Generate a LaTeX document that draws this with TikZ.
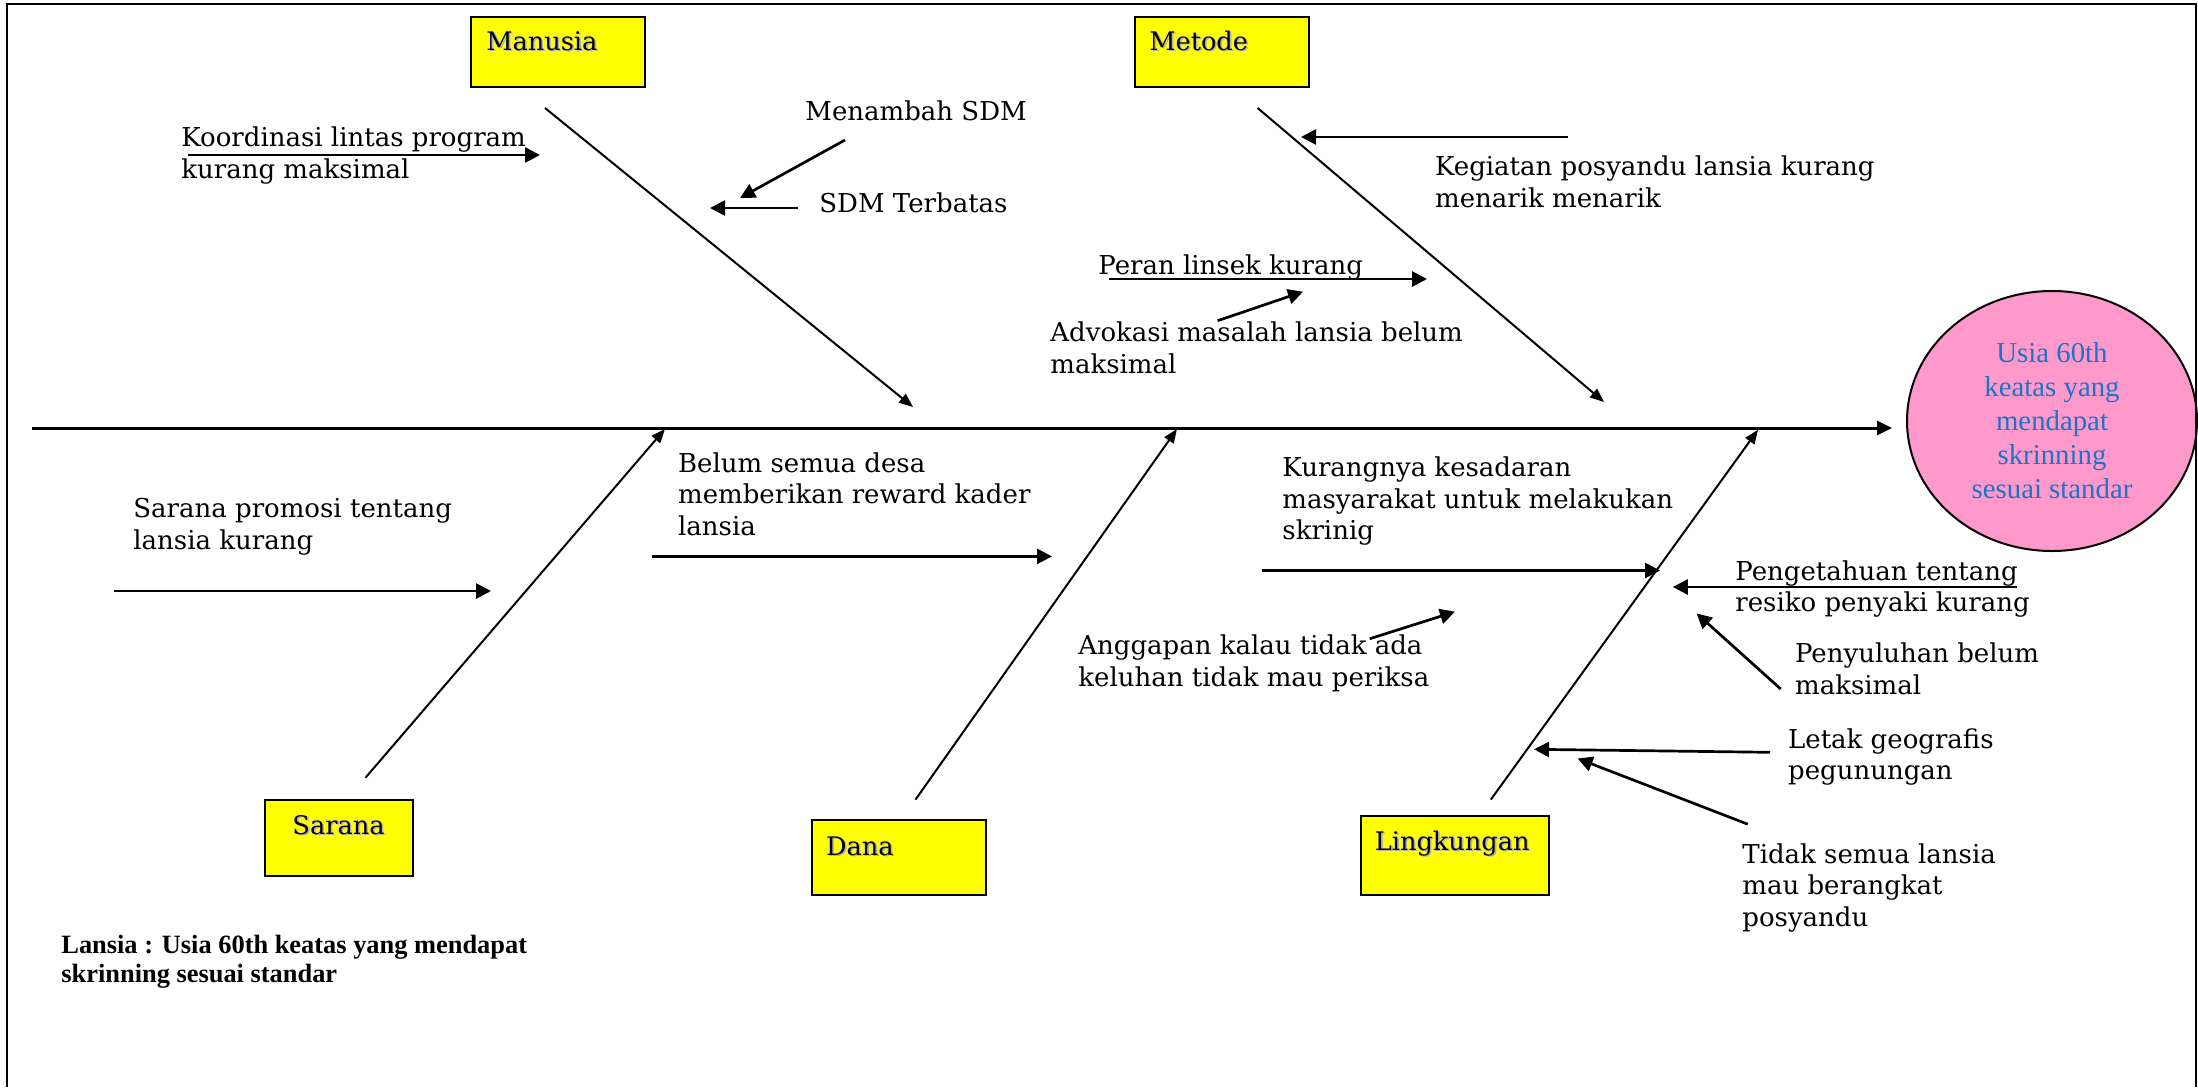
\documentclass[tikz,border=0pt]{standalone}
\usepackage{fontspec}
\setmainfont{DejaVu Serif}
\newfontfamily\timesf{Liberation Serif}
\usetikzlibrary{arrows.meta,shapes.geometric}
\definecolor{boxyellow}{HTML}{FFFF00}
\definecolor{ellpink}{HTML}{FF99CC}
\definecolor{ellblue}{HTML}{1A75C6}
\newcommand\shtext[1]{\leavevmode\rlap{\kern0.8pt\raisebox{-0.8pt}{\textcolor{black!30}{#1}}}#1}
\begin{document}
\begin{tikzpicture}[x=0.5pt,y=-0.5pt,
  lbl/.style={font=\fontsize{13}{15.75}\selectfont, align=left, inner sep=0pt, anchor=base west},
  catbox/.style={draw=black, line width=1pt, fill=boxyellow, inner sep=0pt},
  cattext/.style={font=\fontsize{12.8}{14}\selectfont, inner sep=0pt, anchor=base west},
  bone/.style={line width=1pt, -{Triangle[length=7pt,width=5.5pt]}},
  subarrow/.style={line width=1.35pt, -{Triangle[length=7.5pt,width=7.5pt]}},
  spine/.style={line width=1.5pt, -{Triangle[length=7.5pt,width=7pt]}},
  note/.style={font=\timesf\bfseries\fontsize{13.2}{14.8}\selectfont, align=left, inner sep=0pt, anchor=base west}]
\useasboundingbox (0,0) rectangle (2198,1087);

% category boxes
\node[catbox, minimum width=87pt, minimum height=35pt] (manusia) at (558,52) {};
\node[catbox, minimum width=87pt, minimum height=35pt] (metode) at (1222,52) {};
\node[catbox, minimum width=74pt, minimum height=37.75pt] (sarana) at (338.5,837.75) {};
\node[catbox, minimum width=87pt, minimum height=37.5pt] (dana) at (898.6,857.5) {};
\node[catbox, minimum width=94.25pt, minimum height=39.35pt] (lingk) at (1454.75,855.65) {};
\node[cattext] (tmanusia) at (486,50) {\shtext{Manusia}};
\node[cattext] (tmetode) at (1149,50) {\shtext{Metode}};
\node[cattext, anchor=base] (tsarana) at (338.5,834) {\shtext{Sarana}};
\node[cattext] (tdana) at (825.7,855) {\shtext{Dana}};
\node[cattext] (tlingk) at (1374.5,850) {\shtext{Lingkungan}};

% effect ellipse
\node[ellipse, draw=black, line width=1pt, fill=ellpink, minimum width=145pt, minimum height=130pt, inner sep=0pt,
      align=center, text=ellblue, font=\timesf\fontsize{14.4}{17}\selectfont] (ell) at (2052,421)
  {Usia 60th\\keatas yang\\mendapat\\skrinning\\sesuai standar};

% spine
\coordinate (sp0) at (32,428);
\draw[spine, shorten >=7pt] (sp0) -- (sp0 -| ell.west);

% bones
\coordinate (m1) at (545,108);   \coordinate (m2) at (913,407);
\coordinate (t1) at (1257.6,108); \coordinate (t2) at (1604,402);
\coordinate (s1) at (365.5,777.7); \coordinate (s2) at (665,429);
\coordinate (d1) at (915.5,799.6); \coordinate (d2) at (1177,429);
\coordinate (l1) at (1490.8,799.6); \coordinate (l2) at (1758,429.8);
\draw[bone] (m1) -- (m2);
\draw[bone] (t1) -- (t2);
\draw[bone] (s1) -- (s2);
\draw[bone] (d1) -- (d2);
\draw[bone] (l1) -- (l2);

% cause labels (anchored at the baseline of the last line)
\node[lbl] (ta) at (181,178) {Koordinasi lintas program\\kurang maksimal};
\node[lbl] (tb) at (805,120.5) {Menambah SDM};
\node[lbl] (tc) at (819,212) {SDM Terbatas};
\node[lbl] (td) at (1434.7,207) {Kegiatan posyandu lansia kurang\\menarik menarik};
\node[lbl] (te) at (1098,274) {Peran linsek kurang};
\node[lbl] (tf) at (1050,373) {Advokasi masalah lansia belum\\maksimal};
\node[lbl] (tg) at (133,549) {Sarana promosi tentang\\lansia kurang};
\node[lbl] (th) at (677.7,535.3) {Belum semua desa\\memberikan reward kader\\lansia};
\node[lbl] (ti) at (1282,539.7) {Kurangnya kesadaran\\masyarakat untuk melakukan\\skrinig};
\node[lbl] (tj) at (1078,686) {Anggapan kalau tidak ada\\keluhan tidak mau periksa};
\node[lbl] (tk) at (1735,611.5) {Pengetahuan tentang\\resiko penyaki kurang};
\node[lbl] (tl) at (1794.7,694) {Penyuluhan belum\\maksimal};
\node[lbl] (tm) at (1787.7,779.5) {Letak geografis\\pegunungan};
\node[lbl] (tn) at (1742,926) {Tidak semua lansia\\mau berangkat\\posyandu};

% cause arrows
\coordinate (a1) at (188,155);     \coordinate (a2) at (540,155);
\coordinate (b1) at (845,140);     \coordinate (b2) at (740,198);
\coordinate (c1) at (798,208);     \coordinate (c2) at (710,208);
\coordinate (d1a) at (1568,137);   \coordinate (d2a) at (1301,137);
\coordinate (e1) at (1109,279);    \coordinate (e2) at (1427,279);
\coordinate (f1) at (1217.6,320.7); \coordinate (f2) at (1303,291.7);
\coordinate (g1) at (113.6,591);   \coordinate (g2) at (491,591);
\coordinate (h1) at (652.4,556.4); \coordinate (h2) at (1052,556.4);
\coordinate (i1) at (1261.8,570.5); \coordinate (i2) at (1660,570.5);
\coordinate (j1) at (1369.6,638.8); \coordinate (j2) at (1455,611.7);
\coordinate (k1) at (2017,587);    \coordinate (k2) at (1672.8,587);
\coordinate (l1a) at (1780.7,689); \coordinate (l2a) at (1696.6,613.4);
\coordinate (n1a) at (1770,752.3); \coordinate (n2a) at (1534,749.3);
\coordinate (o1) at (1747.8,824.2); \coordinate (o2) at (1577.6,758.5);
\draw[subarrow] (a1) -- (a2);
\draw[subarrow] (b1) -- (b2);
\draw[subarrow] (c1) -- (c2);
\draw[subarrow] (d1a) -- (d2a);
\draw[subarrow] (e1) -- (e2);
\draw[subarrow] (f1) -- (f2);
\draw[subarrow] (g1) -- (g2);
\draw[subarrow] (h1) -- (h2);
\draw[subarrow] (i1) -- (i2);
\draw[subarrow] (j1) -- (j2);
\draw[subarrow] (k1) -- (k2);
\draw[subarrow] (l1a) -- (l2a);
\draw[subarrow] (n1a) -- (n2a);
\draw[subarrow] (o1) -- (o2);

% note
\node[note] (lansia) at (61,982.6) {Lansia : Usia 60th keatas yang mendapat\\skrinning sesuai standar};

% frame
\draw[line width=1pt] (7,1087) -- (7,4) -- (2196,4) -- (2196,1087);
\end{tikzpicture}
\end{document}
